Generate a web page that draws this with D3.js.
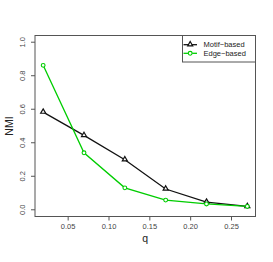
<!DOCTYPE html>
<html>
<head>
<meta charset="utf-8">
<script src="https://cdn.jsdelivr.net/npm/d3@7"></script>
<style>
  body{margin:0;background:#fff;}
  text{font-family:"Liberation Sans",Arial,sans-serif;}
</style>
</head>
<body>
<div id="chart"></div>
<script>
// data
var qValues=[0.02,0.07,0.12,0.17,0.22,0.27];
var motifNMI=[0.583,0.444,0.299,0.124,0.046,0.02];
var edgeNMI=[0.862,0.34,0.131,0.058,0.035,0.02];
var xTicks=[0.05,0.10,0.15,0.20,0.25];
var yTicks=[0.0,0.2,0.4,0.6,0.8,1.0];
var seriesNames=["Motif\u2212based","Edge\u2212based"];

var width=273, height=262;
var margin={top:35.5, left:35, right:17.5, bottom:45.5};
var green="#00cd00", axisCol="#555";

var svg=d3.select("#chart").append("svg")
  .attr("width",width)
  .attr("height",height);

/*Scales, R style 4% padding*/
var xScale=d3.scaleLinear()
  .domain([0.01,0.28])
  .range([margin.left, width-margin.right]);
var yScale=d3.scaleLinear()
  .domain([-0.04,1.04])
  .range([height-margin.bottom, margin.top]);

// box
svg.append("rect")
  .attr("x",xScale(0.01)).attr("y",yScale(1.04))
  .attr("width",xScale(0.28)-xScale(0.01))
  .attr("height",yScale(-0.04)-yScale(1.04))
  .attr("fill","none").attr("stroke",axisCol).attr("stroke-width",1);

// axes
var xAxis=d3.axisBottom(xScale).tickValues(xTicks).tickFormat(d3.format(".2f")).tickSize(4).tickSizeOuter(0);
var yAxis=d3.axisLeft(yScale).tickValues(yTicks).tickFormat(d3.format(".1f")).tickSize(4).tickSizeOuter(0);

var gx=svg.append("g")
  .attr("transform","translate(0,"+yScale(-0.04)+")")
  .call(xAxis);
gx.select(".domain").remove();
gx.selectAll("line").attr("stroke",axisCol);
gx.selectAll("text").attr("fill","#444").style("font-size","7.5px").attr("y",10).attr("dy","0.32em");

var gy=svg.append("g")
  .attr("transform","translate("+xScale(0.01)+",0)")
  .call(yAxis);
gy.select(".domain").remove();
gy.selectAll("line").attr("stroke",axisCol);
gy.selectAll("text")
  .attr("fill","#444").style("font-size","7.5px")
  .attr("text-anchor","middle")
  .attr("x",0).attr("dy",0)
  .attr("transform",function(d){return "translate(-10.5,"+yScale(d)+") rotate(-90)";})
  .attr("y",0);
gy.selectAll(".tick").attr("transform",null);
gy.selectAll(".tick line").attr("transform",function(d){return "translate(0,"+yScale(d)+")";});

// labels
svg.append("text").text("q")
  .attr("x",(xScale(0.01)+xScale(0.28))/2).attr("y",241.5)
  .attr("text-anchor","middle").style("font-size","10.5px").attr("fill","#222");
svg.append("text").text("NMI")
  .attr("transform","translate(13,"+(yScale(-0.04)+yScale(1.04))/2+") rotate(-90)")
  .attr("text-anchor","middle").style("font-size","10.5px").attr("fill","#222");

var line=d3.line()
  .x(function(d){return xScale(d[0]);})
  .y(function(d){return yScale(d[1]);});

var motif=d3.zip(qValues,motifNMI);
var edge=d3.zip(qValues,edgeNMI);
var tri=d3.symbol().type(d3.symbolTriangle).size(11);

function drawSeries(data,color,shape){
  svg.append("path").datum(data)
    .attr("d",line).attr("fill","none")
    .attr("stroke",color).attr("stroke-width",1.3);
  var g=svg.append("g");
  if(shape==="tri"){
    g.selectAll("path").data(data).enter().append("path")
      .attr("d",tri)
      .attr("transform",function(d){return "translate("+xScale(d[0])+","+(yScale(d[1])-0.3)+")";})
      .attr("fill","#fff").attr("stroke",color).attr("stroke-width",1.2);
  } else {
    g.selectAll("circle").data(data).enter().append("circle")
      .attr("cx",function(d){return xScale(d[0]);})
      .attr("cy",function(d){return yScale(d[1]);})
      .attr("r",1.9).attr("fill","#fff").attr("stroke",color).attr("stroke-width",1.1);
  }
}
drawSeries(motif,"#111","tri");
drawSeries(edge,green,"circ");

// legend
var lg=svg.append("g");
lg.append("rect")
  .attr("x",182.5).attr("y",yScale(1.04))
  .attr("width",xScale(0.28)-182.5).attr("height",62-yScale(1.04))
  .attr("fill","#fff").attr("stroke",axisCol).attr("stroke-width",1);
[["#111","tri"],[green,"circ"]].forEach(function(s,i){
  var yy=44.7+i*8.6;
  lg.append("line").attr("x1",183.5).attr("x2",197).attr("y1",yy).attr("y2",yy)
    .attr("stroke",s[0]).attr("stroke-width",1.3);
  if(s[1]==="tri"){
    lg.append("path").attr("d",tri).attr("transform","translate(190.2,"+(yy-0.3)+")")
      .attr("fill","#fff").attr("stroke",s[0]).attr("stroke-width",1.2);
  } else {
    lg.append("circle").attr("cx",190.2).attr("cy",yy).attr("r",1.9)
      .attr("fill","#fff").attr("stroke",s[0]).attr("stroke-width",1.1);
  }
  lg.append("text").text(seriesNames[i]).attr("x",203.5).attr("y",yy).attr("dy","0.35em")
    .style("font-size","7.5px").attr("fill","#222");
});
</script>
</body>
</html>
